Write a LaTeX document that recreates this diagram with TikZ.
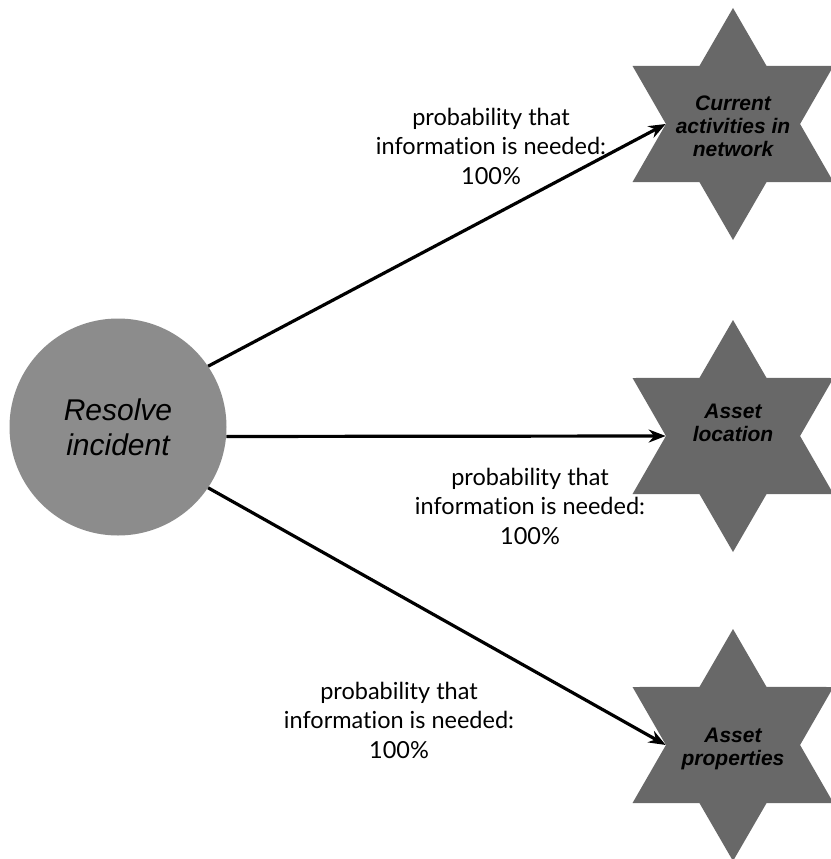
\documentclass[tikz,border=0pt]{standalone}
\usepackage{fontspec}
\setmainfont{Liberation Sans}
\newfontfamily\labelfont[Ligatures=NoCommon]{Lato}
\usetikzlibrary{shapes.geometric,arrows.meta}
\definecolor{stargray}{RGB}{104,104,104}
\definecolor{circlegray}{RGB}{140,140,140}
\begin{document}
\begin{tikzpicture}[x=1pt,y=-1pt,
  task/.style={circle, fill=circlegray, minimum size=217pt, inner sep=0pt,
    align=center, font=\fontsize{30}{35}\selectfont\itshape},
  infostar/.style={star, star points=6, star point ratio=1.73, fill=stargray,
    minimum size=232pt, inner sep=0pt},
  startext/.style={align=center, font=\fontsize{21}{23}\selectfont\bfseries\itshape},
  problabel/.style={align=center, font=\labelfont\fontsize{23.5}{29.5}\selectfont},
  link/.style={line width=3.2pt, -{Stealth[length=17pt,width=13pt]}}]

% page area
\path[use as bounding box, fill=white] (0,0) rectangle (830,859);

% task and information items
\node[task] (c) at (118,427) {Resolve\\incident};
\node[infostar] (s1) at (733,124) {};
\node[infostar] (s2) at (733,436) {};
\node[infostar] (s3) at (733,745) {};
\node[startext] (t1) at (733,126) {Current\\activities in\\network};
\node[startext] (t2) at (733,423) {Asset\\location};
\node[startext] (t3) at (733,749) {Asset\\properties};

% dependencies
\draw[link] (c.34) -- (s1.west);
\draw[link] (c.-5) -- (s2.west);
\draw[link] (c.-34) -- (s3.west);

% probabilities
\node[problabel] (p1) at (491,146) {probability that\\information is needed:\\100\%};
\node[problabel] (p2) at (530,506) {probability that\\information is needed:\\100\%};
\node[problabel] (p3) at (399,720) {probability that\\information is needed:\\100\%};
\end{tikzpicture}
\end{document}
